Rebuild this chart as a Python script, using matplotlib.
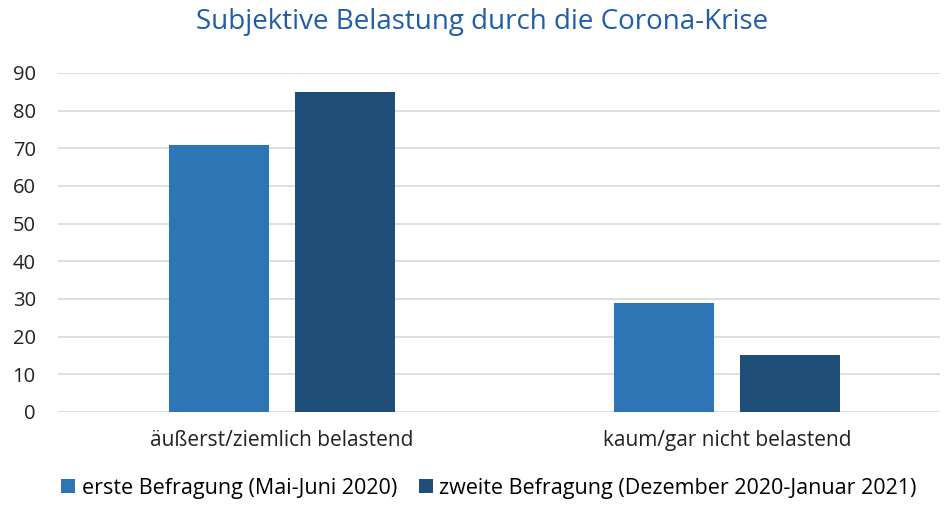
import numpy as np
import matplotlib.pyplot as plt

# Data
categories = ['äußerst/ziemlich belastend', 'kaum/gar nicht belastend']
erste = [71, 29]
zweite = [85, 15]
series_labels = ['erste Befragung (Mai-Juni 2020)',
                 'zweite Befragung (Dezember 2020-Januar 2021)']
yticks = [0, 10, 20, 30, 40, 50, 60, 70, 80, 90]

plt.rcParams['font.family'] = ['Open Sans', 'DejaVu Sans']

fig = plt.figure(figsize=(9.44, 5.09), dpi=100)
ax = fig.add_axes([0.0614, 0.1906, 0.934, 0.666])

x = np.arange(len(categories))
w = 0.225
off = 0.1416
ax.bar(x - off, erste, w, color='#2E75B6', label=series_labels[0], zorder=3)
ax.bar(x + off, zweite, w, color='#1F4E79', label=series_labels[1], zorder=3)

ax.set_xlim(-0.503, 1.478)
ax.set_ylim(0, 90)
ax.set_yticks(yticks)
ax.set_xticks(x)
ax.set_xticklabels(categories, fontsize=15, color='#222222')
ax.tick_params(axis='y', labelsize=14.5, colors='#222222', length=0, pad=16)
ax.tick_params(axis='x', length=0, pad=13)
ax.grid(axis='y', color='#D9D9D9', linewidth=1.2, zorder=0)
for s in ax.spines.values():
    s.set_visible(False)

fig.suptitle('Subjektive Belastung durch die Corona-Krise', x=0.511, y=0.985,
             fontsize=20, color='#1F5DAA')

fig.legend(loc='lower center', bbox_to_anchor=(0.518, -0.018), ncol=2,
           frameon=False, fontsize=15.5, handlelength=0.65, handleheight=0.65,
           handletextpad=0.3, columnspacing=1.0)

plt.savefig('out.png', dpi=100)
